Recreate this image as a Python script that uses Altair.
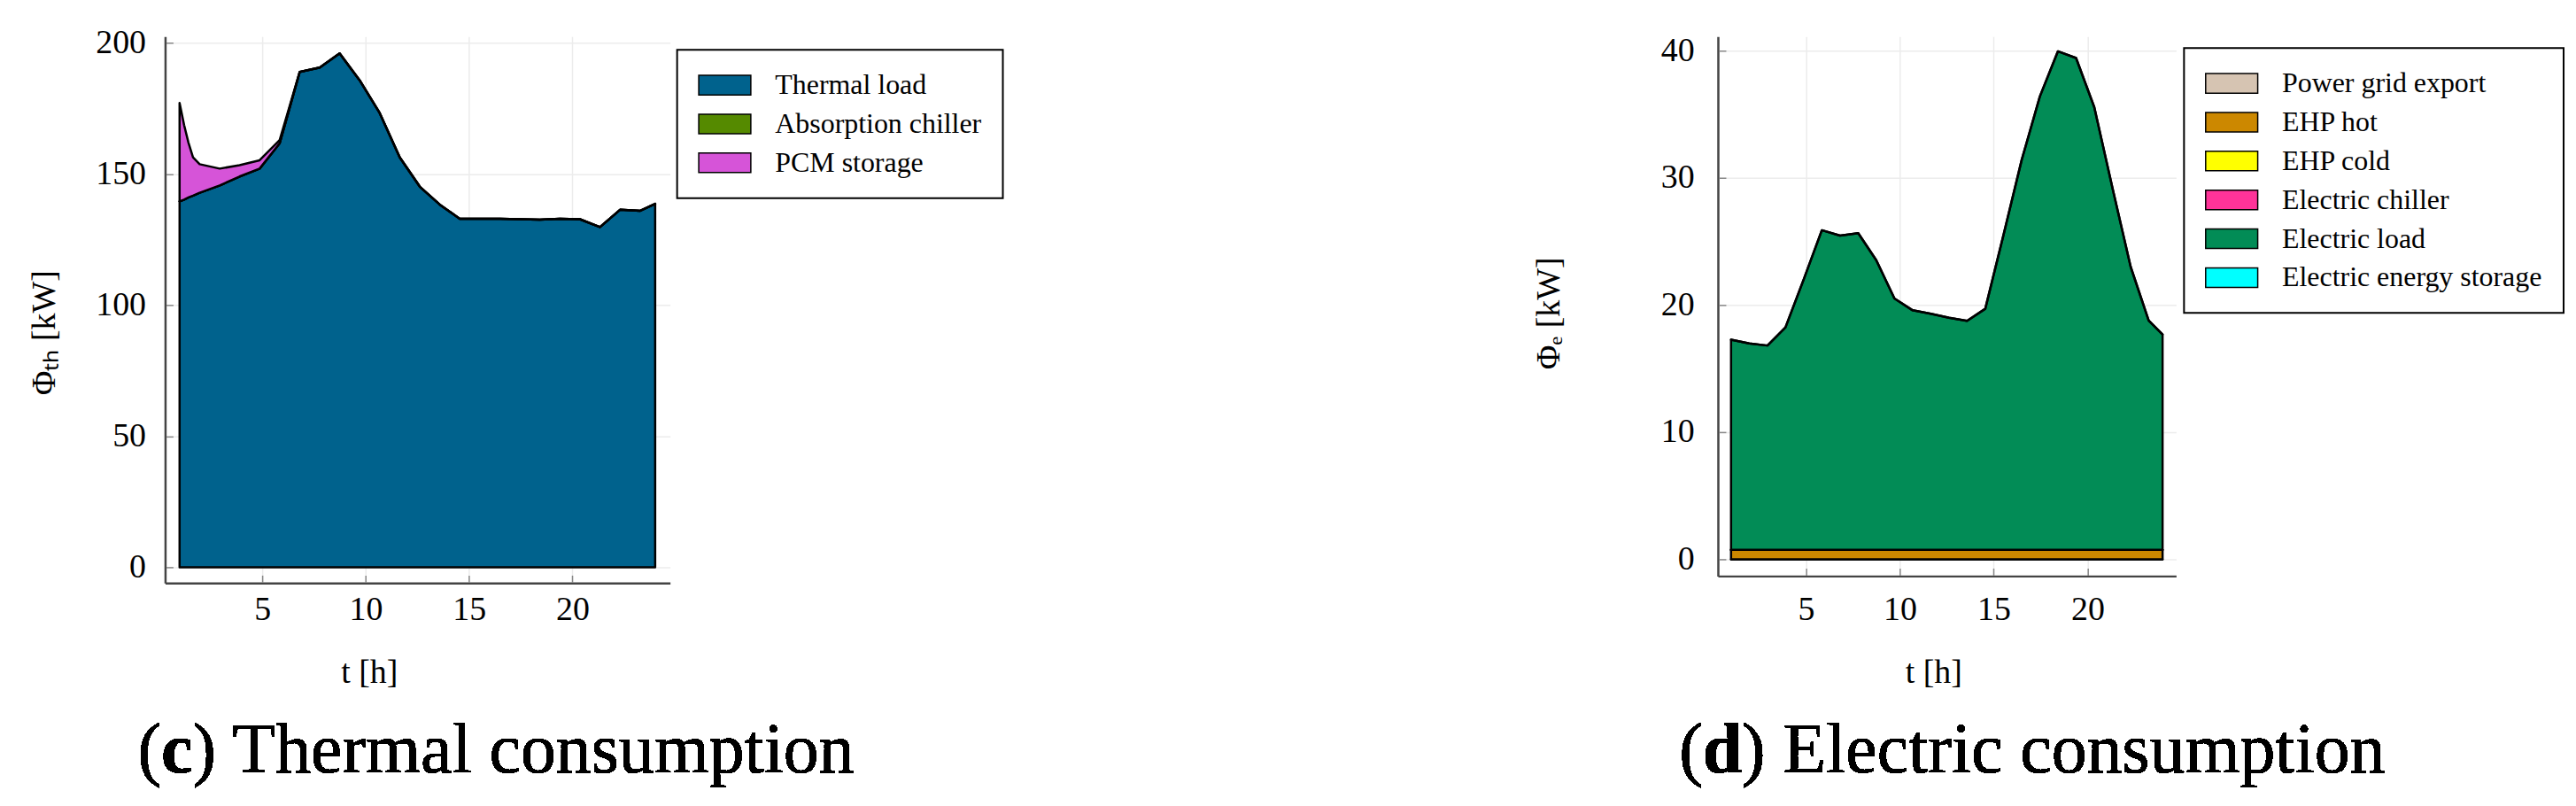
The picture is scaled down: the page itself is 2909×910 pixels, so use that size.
import altair as alt
import pandas as pd

FONT = "Liberation Serif"

# ---------------- Thermal consumption (c) ----------------
t_th = [1.0, 1.22, 1.43, 1.65, 1.97, 2.94, 3.90, 4.87, 5.84, 6.81, 7.78, 8.74, 9.71, 10.68,
        11.65, 12.62, 13.58, 14.55, 15.52, 16.49, 17.46, 18.42, 19.39, 20.36, 21.33, 22.30,
        23.26, 24.0]
thermal_load = [139.6, 140.3, 141.1, 141.8, 142.9, 145.7, 149.1, 152.1, 161.8, 189.0, 190.7,
                196.1, 185.8, 173.3, 156.4, 145.2, 138.4, 133.0, 133.0, 133.0, 132.8, 132.6,
                133.0, 132.8, 129.8, 136.4, 136.0, 138.7]
absorption_chiller = [0.0, 0.0, 0.0, 0.0, 0.0, 0.0, 0.0, 0.0, 0.0, 0.0, 0.0, 0.0, 0.0, 0.0,
                      0.0, 0.0, 0.0, 0.0, 0.0, 0.0, 0.0, 0.0, 0.0, 0.0, 0.0, 0.0, 0.0, 0.0]
pcm_storage = [37.6, 28.4, 20.9, 14.6, 10.9, 6.4, 4.3, 3.2, 1.2, 0.0, 0.0, 0.0, 0.0, 0.0,
               0.0, 0.0, 0.0, 0.0, 0.0, 0.0, 0.0, 0.0, 0.0, 0.0, 0.0, 0.0, 0.0, 0.0]
th_series = ["Thermal load", "Absorption chiller", "PCM storage"]
th_colors = ["#00628d", "#558a00", "#d654d8"]
th_ticks_y = [0, 50, 100, 150, 200]

# ---------------- Electric consumption (d) ----------------
t_el = [1.0, 1.97, 2.94, 3.90, 4.87, 5.84, 6.81, 7.78, 8.74, 9.71, 10.68, 11.65, 12.62, 13.58,
        14.55, 15.52, 16.49, 17.46, 18.42, 19.39, 20.36, 21.33, 22.30, 23.26, 24.0]
power_grid_export = [0.0, 0.0, 0.0, 0.0, 0.0, 0.0, 0.0, 0.0, 0.0, 0.0, 0.0, 0.0, 0.0,
                     0.0, 0.0, 0.0, 0.0, 0.0, 0.0, 0.0, 0.0, 0.0, 0.0, 0.0, 0.0]
ehp_hot = [0.75, 0.75, 0.75, 0.75, 0.75, 0.75, 0.75, 0.75, 0.75, 0.75, 0.75, 0.75, 0.75,
           0.75, 0.75, 0.75, 0.75, 0.75, 0.75, 0.75, 0.75, 0.75, 0.75, 0.75, 0.75]
ehp_cold = [0.0, 0.0, 0.0, 0.0, 0.0, 0.0, 0.0, 0.0, 0.0, 0.0, 0.0, 0.0, 0.0,
            0.0, 0.0, 0.0, 0.0, 0.0, 0.0, 0.0, 0.0, 0.0, 0.0, 0.0, 0.0]
electric_chiller = [0.0, 0.0, 0.0, 0.0, 0.0, 0.0, 0.0, 0.0, 0.0, 0.0, 0.0, 0.0, 0.0,
                    0.0, 0.0, 0.0, 0.0, 0.0, 0.0, 0.0, 0.0, 0.0, 0.0, 0.0, 0.0]
electric_load = [16.52, 16.22, 16.06, 17.49, 21.25, 25.13, 24.71, 24.90, 22.77, 19.76, 18.83,
                 18.56, 18.25, 18.00, 18.95, 24.75, 30.65, 35.65, 39.20, 38.67, 34.81, 28.45,
                 22.25, 18.02, 16.93]
electric_storage = [0.0, 0.0, 0.0, 0.0, 0.0, 0.0, 0.0, 0.0, 0.0, 0.0, 0.0, 0.0, 0.0,
                    0.0, 0.0, 0.0, 0.0, 0.0, 0.0, 0.0, 0.0, 0.0, 0.0, 0.0, 0.0]
el_series = ["Power grid export", "EHP hot", "EHP cold", "Electric chiller",
             "Electric load", "Electric energy storage"]
el_colors = ["#d6c4b2", "#cc8800", "#ffff00", "#ff3399", "#028c56", "#00ffff"]
el_ticks_y = [0, 10, 20, 30, 40]

x_ticks = [5, 10, 15, 20]


def long_frame(ts, names, arrays):
    rows = []
    for i, t in enumerate(ts):
        for j, (name, vals) in enumerate(zip(names, arrays)):
            rows.append({"t": t, "series": name, "value": vals[i], "k": j})
    return pd.DataFrame(rows)


df_th = long_frame(t_th, th_series, [thermal_load, absorption_chiller, pcm_storage])
df_el = long_frame(t_el, el_series, [power_grid_export, ehp_hot, ehp_cold, electric_chiller,
                                     electric_load, electric_storage])

SYMBOL = "M-2,-0.75H2V0.75H-2Z"
XDOM = [0.3, 24.72]


def panel(df, names, colors, yticks, ydom, width, height, ytitle,
          ylab_pad, ytitle_x, ytitle_y, xlab_pad, xtitle_x, xtitle_y,
          leg_x, leg_y, cap_x, cap_letter, cap_rest, letter_w):
    xscale = alt.Scale(domain=XDOM, nice=False, zero=False)
    yscale = alt.Scale(domain=ydom, nice=False, zero=False)
    area = alt.Chart(df).mark_area(
        stroke="black", strokeWidth=2.5, opacity=1, interpolate="linear", strokeJoin="round"
    ).encode(
        x=alt.X("t:Q", scale=xscale, axis=alt.Axis(
            values=x_ticks, title="t [h]", grid=True, tickSize=0, labelPadding=xlab_pad,
            titleX=xtitle_x, titleY=xtitle_y, titleBaseline="middle", titleAlign="center",
            orient="bottom")),
        y=alt.Y("value:Q", stack="zero", scale=yscale, axis=alt.Axis(
            values=yticks, title=ytitle, grid=True, tickSize=0, labelPadding=ylab_pad,
            titleX=ytitle_x, titleY=ytitle_y, titleAngle=270, titleBaseline="alphabetic",
            titleAlign="center", orient="left")),
        color=alt.Color("series:N", scale=alt.Scale(domain=names, range=colors),
                        legend=alt.Legend(orient="none", legendX=leg_x, legendY=leg_y,
                                          title=None)),
        order=alt.Order("k:Q", sort="ascending"),
    )
    ticks = alt.Chart(df).mark_point(opacity=0).encode(
        x=alt.X("t:Q", scale=xscale, axis=alt.Axis(
            values=x_ticks, orient="bottom", offset=-9, tickSize=8, domain=False,
            labels=False, grid=False, title=None)),
        y=alt.Y("value:Q", scale=yscale, axis=alt.Axis(
            values=yticks, orient="left", offset=-9, tickSize=8, domain=False,
            labels=False, grid=False, title=None)),
    )
    cap_y = 833
    c1 = alt.Chart(df).mark_text(text="(", align="left", baseline="alphabetic", font=FONT,
                                 fontSize=80, color="black").encode(
        x=alt.value(cap_x), y=alt.value(cap_y))
    c2 = alt.Chart(df).mark_text(text=cap_letter, align="left", baseline="alphabetic",
                                 font=FONT, fontSize=80, fontWeight="bold",
                                 color="black").encode(
        x=alt.value(cap_x + 26.6), y=alt.value(cap_y))
    c3 = alt.Chart(df).mark_text(text=") " + cap_rest, align="left", baseline="alphabetic",
                                 font=FONT, fontSize=80, color="black").encode(
        x=alt.value(cap_x + 26.6 + letter_w), y=alt.value(cap_y))
    return alt.layer(area, ticks, c1, c2, c3).resolve_axis(
        x="independent", y="independent").properties(width=width, height=height)


thermal = panel(df_th, th_series, th_colors, th_ticks_y, [-6.06, 202.5], 572, 619,
                "Φₜₕ [kW]", 22, -125, 335, 11, 231, 101, 580, 15, -31, "c",
                "Thermal consumption", 35.5)
electric = panel(df_el, el_series, el_colors, el_ticks_y, [-1.32, 41.11], 519, 611,
                 "Φₑ [kW]", 27, -180, 313, 19, 244, 109, 528, 13, -44, "d",
                 "Electric consumption", 44.5)

chart = alt.hconcat(thermal, electric, spacing=1187, bounds="flush").resolve_scale(
    color="independent"
).properties(
    padding={"left": 24, "top": 20, "right": 5, "bottom": 5},
    background="white",
).configure_axis(
    labelFont=FONT, labelFontSize=38, labelColor="black",
    titleFont=FONT, titleFontSize=38, titleFontWeight="normal", titleColor="black",
    domainColor="#444444", domainWidth=2.5, gridColor="#ececec", gridWidth=1.5,
    tickColor="#888888", tickWidth=1.5,
).configure_legend(
    labelFont=FONT, labelFontSize=32, labelColor="black", labelLimit=600,
    symbolType=SYMBOL, symbolSize=870, symbolStrokeColor="black", symbolStrokeWidth=1.5,
    symbolOpacity=1, symbolOffset=14, labelOffset=41, rowPadding=12, padding=24,
    strokeColor="black", strokeWidth=2, fillColor="white", cornerRadius=0,
).configure_view(stroke=None)

chart.save("out.html", embed_options={"renderer": "svg", "actions": False})
